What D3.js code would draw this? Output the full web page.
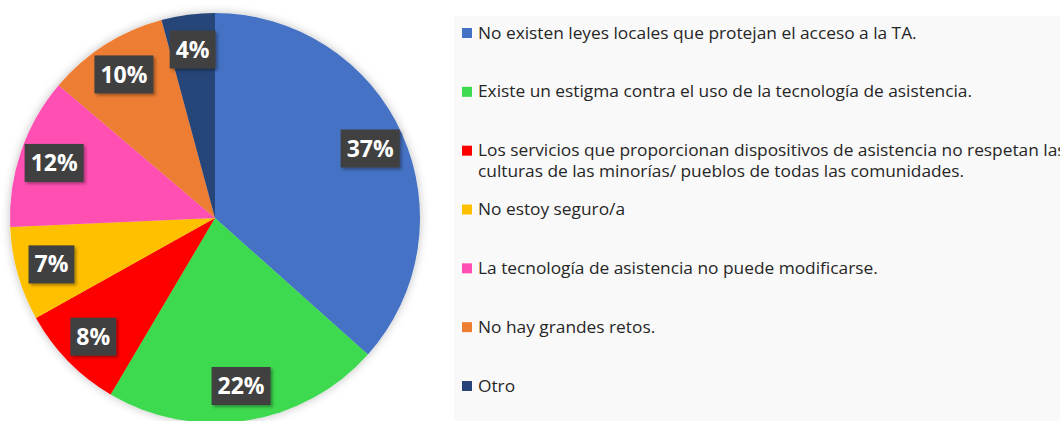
<!DOCTYPE html>
<html>
<head>
<meta charset="utf-8">
<script src="https://cdn.jsdelivr.net/npm/d3@7"></script>
<style>
  body { margin: 0; background: #fff; }
</style>
</head>
<body>
<script>
// data
let categories = [
  'No existen leyes locales que protejan el acceso a la TA.',
  'Existe un estigma contra el uso de la tecnología de asistencia.',
  'Los servicios que proporcionan dispositivos de asistencia no respetan las\nculturas de las minorías/ pueblos de todas las comunidades.',
  'No estoy seguro/a',
  'La tecnología de asistencia no puede modificarse.',
  'No hay grandes retos.',
  'Otro'
];
let values = [36.6, 21.9, 8.4, 7.4, 11.9, 9.6, 4.2];
let colors = ['#4472C4', '#3DD94F', '#FF0000', '#FFC000', '#FF4FB3', '#ED7D31', '#264478'];

let width = 1060, height = 421;
let cx = 215, cy = 218, radius = 205;

let svg = d3.select('body')
  .append('svg')
  .attr('width', width)
  .attr('height', height);

let defs = svg.append('defs');
defs.append('filter')
  .attr('id', 'pieShadow')
  .attr('x', '-20%').attr('y', '-20%').attr('width', '140%').attr('height', '140%')
  .append('feDropShadow')
  .attr('dx', 0).attr('dy', 0)
  .attr('stdDeviation', 5)
  .attr('flood-color', '#000')
  .attr('flood-opacity', 0.25);
defs.append('filter')
  .attr('id', 'boxShadow')
  .attr('x', '-20%').attr('y', '-20%').attr('width', '150%').attr('height', '150%')
  .append('feDropShadow')
  .attr('dx', 2).attr('dy', 2)
  .attr('stdDeviation', 1.5)
  .attr('flood-color', '#000')
  .attr('flood-opacity', 0.35);

// legend background
svg.append('rect')
  .attr('x', 454)
  .attr('y', 16)
  .attr('width', width - 454)
  .attr('height', height - 16)
  .attr('fill', '#f9f9f9');

let total = d3.sum(values);
let pie = d3.pie().sort(null).value(d => d);
let arcs = pie(values);

let arc = d3.arc().innerRadius(0).outerRadius(radius);
let labelArc = d3.arc().innerRadius(170).outerRadius(170);

let g = svg.append('g')
  .attr('transform', `translate(${cx},${cy})`);

g.append('g')
  .attr('filter', 'url(#pieShadow)')
  .selectAll('path')
  .data(arcs)
  .enter()
  .append('path')
  .attr('d', arc)
  .attr('fill', (d, i) => colors[i]);

// data labels
let labels = g.selectAll('g.lbl')
  .data(arcs)
  .enter()
  .append('g')
  .attr('class', 'lbl')
  .attr('transform', d => `translate(${labelArc.centroid(d)})`);

labels.each(function(d) {
  let sel = d3.select(this);
  let txt = Math.round(d.value / total * 100) + '%';
  let rect = sel.append('rect').attr('fill', '#3f3f3f').attr('filter', 'url(#boxShadow)');
  let t = sel.append('text')
    .attr('text-anchor', 'middle')
    .attr('dy', '0.35em')
    .attr('fill', '#fff')
    .style('font-family', '"Open Sans", sans-serif')
    .style('font-weight', 'bold')
    .style('font-size', '23px')
    .text(txt);
  let w = t.node().getComputedTextLength() + 12;
  rect.attr('x', -w / 2).attr('y', -19).attr('width', w).attr('height', 38);
});

// legend
let legendY = d3.scalePoint()
  .domain(d3.range(categories.length))
  .range([33, 386]);

let legend = svg.append('g');

legend.selectAll('rect.sw')
  .data(categories)
  .enter()
  .append('rect')
  .attr('class', 'sw')
  .attr('x', 462)
  .attr('y', (d, i) => legendY(i) - 5)
  .attr('width', 10)
  .attr('height', 10)
  .attr('fill', (d, i) => colors[i]);

let textG = legend.append('g');

let items = textG.selectAll('text')
  .data(categories)
  .enter()
  .append('text')
  .attr('x', 0)
  .attr('y', (d, i) => legendY(i))
  .attr('fill', '#262626')
  .style('font-family', '"Open Sans", sans-serif')
  .style('font-size', '16px');

items.each(function(d) {
  let sel = d3.select(this);
  d.split('\n').forEach((line, j) => {
    sel.append('tspan')
      .attr('x', 0)
      .attr('dy', j === 0 ? '0.35em' : '21px')
      .text(line);
  });
});

// squeeze text horizontally to match the narrow original face
let firstW = items.node().getComputedTextLength();
let k = 439 / firstW;
textG.attr('transform', `translate(478,0) scale(${k},1)`);
</script>
</body>
</html>
